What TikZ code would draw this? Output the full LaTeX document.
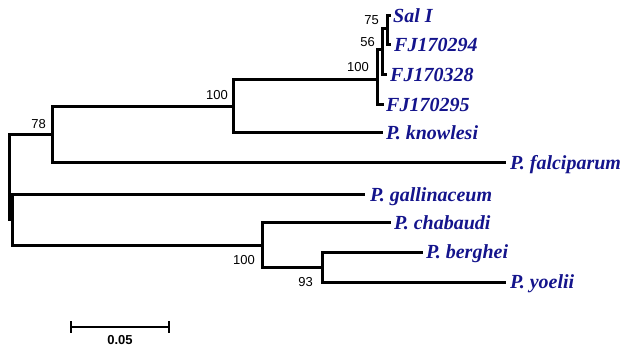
\documentclass[tikz,border=0pt]{standalone}
\usepackage{fontspec}
\setmainfont{Liberation Serif}
\setsansfont{Liberation Sans}
\definecolor{taxon}{RGB}{20,20,140}
\tikzset{
  branch/.style={line width=3pt, line cap=rect, line join=miter},
  leaf/.style={anchor=west, inner sep=0pt, text height=13.2pt, text depth=0pt,
    text=taxon, font=\fontsize{20}{20}\selectfont\bfseries\itshape},
  boot/.style={anchor=east, inner sep=0pt, font=\sffamily\fontsize{13}{13}\selectfont},
}
\begin{document}
\begin{tikzpicture}[x=1pt,y=-1pt]
  \useasboundingbox (0,0) rectangle (623,347);
  % nodi interni
  \coordinate (root)  at (9,177.5);
  \coordinate (n78)   at (52,135);
  \coordinate (n100a) at (233,107);
  \coordinate (ntop)  at (377,80);
  \coordinate (n56)   at (382,50);
  \coordinate (n75)   at (387,29);
  \coordinate (nlow)  at (12.5,220);
  \coordinate (n100c) at (262,245);
  \coordinate (n93)   at (322,267);
  % foglie
  \coordinate (tsal)  at (389,16);
  \coordinate (t294)  at (389,45);
  \coordinate (t328)  at (385,75);
  \coordinate (t295)  at (382,105);
  \coordinate (tkno)  at (381,133);
  \coordinate (tfal)  at (504,163);
  \coordinate (tgal)  at (363,195);
  \coordinate (tcha)  at (389,223);
  \coordinate (tber)  at (421,252);
  \coordinate (tyoe)  at (504,282);
  % rami
  \draw[branch] (root) |- (n78);
  \draw[branch] (root) |- (nlow);
  \draw[branch] (n78) |- (n100a);
  \draw[branch] (n78) |- (tfal);
  \draw[branch] (n100a) |- (ntop);
  \draw[branch] (n100a) |- (tkno);
  \draw[branch] (ntop) |- (n56);
  \draw[branch] (ntop) |- (t295);
  \draw[branch] (n56) |- (n75);
  \draw[branch] (n56) |- (t328);
  \draw[branch] (n75) |- (tsal);
  \draw[branch] (n75) |- (t294);
  \draw[branch] (nlow) |- (tgal);
  \draw[branch] (nlow) |- (n100c);
  \draw[branch] (n100c) |- (tcha);
  \draw[branch] (n100c) |- (n93);
  \draw[branch] (n93) |- (tber);
  \draw[branch] (n93) |- (tyoe);
  % nomi
  \node[leaf] (sal) at ([xshift=4pt]tsal) {Sal I};
  \node[leaf] (fj294) at ([xshift=5pt]t294) {FJ170294};
  \node[leaf] (fj328) at ([xshift=5pt]t328) {FJ170328};
  \node[leaf] (fj295) at ([xshift=4pt]t295) {FJ170295};
  \node[leaf] (pkno) at ([xshift=5pt]tkno) {P. knowlesi};
  \node[leaf] (pfal) at ([xshift=6pt]tfal) {P. falciparum};
  \node[leaf] (pgal) at ([xshift=7pt]tgal) {P. gallinaceum};
  \node[leaf] (pcha) at ([xshift=5pt]tcha) {P. chabaudi};
  \node[leaf] (pber) at ([xshift=5pt]tber) {P. berghei};
  \node[leaf] (pyoe) at ([xshift=6pt]tyoe) {P. yoelii};
  % bootstrap
  \node[boot] (b75) at (379,20) {75};
  \node[boot] (b56) at (375,42) {56};
  \node[boot] (b100t) at (369,67) {100};
  \node[boot] (b100a) at (228,95) {100};
  \node[boot] (b78) at (46,124) {78};
  \node[boot] (b100c) at (255,260) {100};
  \node[boot] (b93) at (313,282) {93};
  % scala
  \coordinate (sbl) at (71,327);
  \coordinate (sbr) at (169,327);
  \draw[line width=2pt] (sbl) -- (sbr);
  \draw[line width=2pt] ([yshift=6pt]sbl) -- ([yshift=-6pt]sbl);
  \draw[line width=2pt] ([yshift=6pt]sbr) -- ([yshift=-6pt]sbr);
  \node[font=\sffamily\bfseries\fontsize{13}{13}\selectfont, inner sep=0pt] (sblab) at (120,340) {0.05};
\end{tikzpicture}
\end{document}
